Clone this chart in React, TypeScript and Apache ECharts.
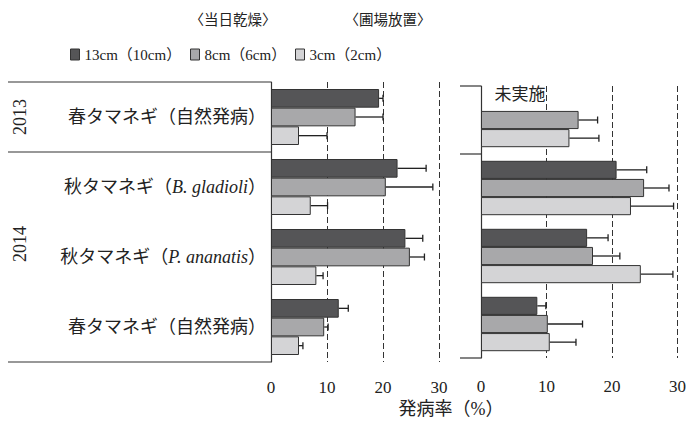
import React, { useEffect, useRef } from "react";
import * as echarts from "echarts";

const FONT = "'Liberation Serif', 'Noto Sans CJK JP', serif";

const categories = ["2013春", "2014秋B", "2014秋P", "2014春"];
const categoryLabels = [
  "春タマネギ（自然発病）",
  "秋タマネギ（{i|B. gladioli}）",
  "秋タマネギ（{i|P. ananatis}）",
  "春タマネギ（自然発病）",
];
const seriesNames = ["13cm（10cm）", "8cm（6cm）", "3cm（2cm）"];
const colors = ["#555557", "#a8a8aa", "#d4d4d6"];

// 〈当日乾燥〉
const dryDark = [19.3, 22.6, 24.0, 12.1];
const dryDarkErr = [0.7, 5.1, 3.1, 1.7];
const dryMid = [15.1, 20.5, 24.8, 9.5];
const dryMidErr = [4.9, 8.4, 2.6, 0.7];
const dryLight = [5.0, 7.1, 8.1, 5.0];
const dryLightErr = [5.0, 3.0, 1.2, 0.7];

// 〈圃場放置〉
const fieldDark = [null, 20.7, 16.2, 8.6];
const fieldDarkErr = [null, 4.6, 3.2, 1.3];
const fieldMid = [14.9, 24.9, 17.1, 10.2];
const fieldMidErr = [2.9, 3.8, 4.1, 5.3];
const fieldLight = [13.5, 22.9, 24.4, 10.5];
const fieldLightErr = [4.5, 6.5, 4.9, 4.0];

const xTicks = [0, 10, 20, 30];

function errData(vals: (number | null)[][], errs: (number | null)[][]) {
  const out: number[][] = [];
  vals.forEach((arr, k) => {
    arr.forEach((v, i) => {
      const e = errs[k][i];
      if (v != null && e != null) out.push([v, i, e, k]);
    });
  });
  return out;
}

function renderErr(params: any, api: any) {
  const v = api.value(0);
  const cat = api.value(1);
  const e = api.value(2);
  const k = api.value(3);
  const band = api.size([0, 1])[1];
  const bw = (band * 0.8) / 3;
  const off = (k - 1) * bw;
  const p0 = api.coord([v, cat]);
  const p1 = api.coord([v + e, cat]);
  const y = p0[1] + off;
  const style = { stroke: "#222", lineWidth: 1.3 };
  return {
    type: "group",
    children: [
      { type: "line", shape: { x1: p0[0], y1: y, x2: p1[0], y2: y }, style },
      { type: "line", shape: { x1: p1[0], y1: y - 3.5, x2: p1[0], y2: y + 3.5 }, style },
    ],
  };
}

export default function App() {
  const ref = useRef<HTMLDivElement>(null);
  useEffect(() => {
    if (!ref.current) return;
    const chart = echarts.init(ref.current, null, { renderer: "svg" });
    const xAxisBase = (gridIndex: number, margin: number) => ({
      type: "value",
      gridIndex,
      min: 0,
      max: 30,
      interval: 10,
      axisLine: { show: false },
      axisTick: { show: false },
      axisLabel: {
        margin,
        fontFamily: FONT,
        fontSize: 17,
        color: "#222",
        formatter: (v: number) => (xTicks.includes(v) ? String(v) : ""),
      },
      splitLine: {
        show: true,
        lineStyle: { color: "#333", width: 1, type: [6, 3] },
      },
    });
    const barSeries = (name: string, data: (number | null)[], idx: number, axis: number) => ({
      type: "bar",
      name,
      xAxisIndex: axis,
      yAxisIndex: axis,
      data,
      barGap: "0%",
      barCategoryGap: "20%",
      itemStyle: { color: colors[idx], borderColor: "#333", borderWidth: 1 },
    });
    const legendItem = (name: string, left: number) => ({
      data: [name],
      left,
      top: 47,
      padding: 0,
      icon: "rect",
      itemWidth: 9,
      itemHeight: 11,
      itemStyle: { borderColor: "#333", borderWidth: 1 },
      textStyle: { fontFamily: FONT, fontSize: 15, color: "#222" },
    });
    const hLine = (x1: number, x2: number, y: number) => ({
      type: "line",
      shape: { x1, y1: y, x2, y2: y },
      style: { stroke: "#333", lineWidth: 1.2 },
    });

    chart.setOption({
      animation: false,
      backgroundColor: "#fff",
      legend: [
        legendItem(seriesNames[0], 70),
        legendItem(seriesNames[1], 190),
        legendItem(seriesNames[2], 295),
      ],
      grid: [
        { left: 271, top: 82, width: 168, height: 280 },
        { left: 481, top: 86, width: 199, height: 272 },
      ],
      xAxis: [xAxisBase(0, 17), xAxisBase(1, 20)],
      yAxis: [
        {
          type: "category",
          gridIndex: 0,
          data: categories,
          inverse: true,
          axisLine: { show: true, lineStyle: { color: "#333", width: 1.2 } },
          axisTick: { show: false },
          axisLabel: {
            margin: 5,
            fontFamily: FONT,
            fontSize: 18,
            color: "#222",
            formatter: (_v: string, i: number) => categoryLabels[i],
            rich: {
              i: { fontStyle: "italic", fontFamily: FONT, fontSize: 18, color: "#222" },
            },
          },
        },
        {
          type: "category",
          gridIndex: 1,
          data: categories,
          inverse: true,
          axisLine: { show: true, lineStyle: { color: "#333", width: 1.2 } },
          axisTick: { show: false },
          axisLabel: { show: false },
        },
      ],
      series: [
        barSeries(seriesNames[0], dryDark, 0, 0),
        barSeries(seriesNames[1], dryMid, 1, 0),
        barSeries(seriesNames[2], dryLight, 2, 0),
        barSeries(seriesNames[0], fieldDark, 0, 1),
        barSeries(seriesNames[1], fieldMid, 1, 1),
        barSeries(seriesNames[2], fieldLight, 2, 1),
        {
          type: "custom",
          name: "err-dry",
          xAxisIndex: 0,
          yAxisIndex: 0,
          encode: { x: 0, y: 1 },
          data: errData([dryDark, dryMid, dryLight], [dryDarkErr, dryMidErr, dryLightErr]),
          renderItem: renderErr,
          z: 5,
        },
        {
          type: "custom",
          name: "err-field",
          xAxisIndex: 1,
          yAxisIndex: 1,
          encode: { x: 0, y: 1 },
          data: errData([fieldDark, fieldMid, fieldLight], [fieldDarkErr, fieldMidErr, fieldLightErr]),
          renderItem: renderErr,
          z: 5,
        },
      ],
      graphic: [
        { type: "text", x: 233, y: 20, style: { text: "〈当日乾燥〉", fontFamily: FONT, fontSize: 14.5, fill: "#222", align: "center", verticalAlign: "middle" } },
        { type: "text", x: 388, y: 20, style: { text: "〈圃場放置〉", fontFamily: FONT, fontSize: 14.5, fill: "#222", align: "center", verticalAlign: "middle" } },
        hLine(8, 271, 82),
        hLine(8, 271, 152),
        hLine(8, 271, 362),
        hLine(460, 481, 86),
        hLine(460, 481, 154),
        hLine(460, 481, 358),
        { type: "text", x: 20, y: 117, rotation: Math.PI / 2, style: { text: "2013", fontFamily: FONT, fontSize: 18, fill: "#222", align: "center", verticalAlign: "middle" } },
        { type: "text", x: 20, y: 244, rotation: Math.PI / 2, style: { text: "2014", fontFamily: FONT, fontSize: 18, fill: "#222", align: "center", verticalAlign: "middle" } },
        { type: "text", x: 520, y: 94, style: { text: "未実施", fontFamily: FONT, fontSize: 17, fill: "#222", align: "center", verticalAlign: "middle" } },
        { type: "text", x: 451, y: 409, style: { text: "発病率（%）", fontFamily: FONT, fontSize: 18, fill: "#222", align: "center", verticalAlign: "middle" } },
      ],
    });
    return () => chart.dispose();
  }, []);
  return (
    <div
      ref={ref}
      style={{ position: "absolute", left: 0, top: 0, width: 689, height: 427 }}
    />
  );
}
